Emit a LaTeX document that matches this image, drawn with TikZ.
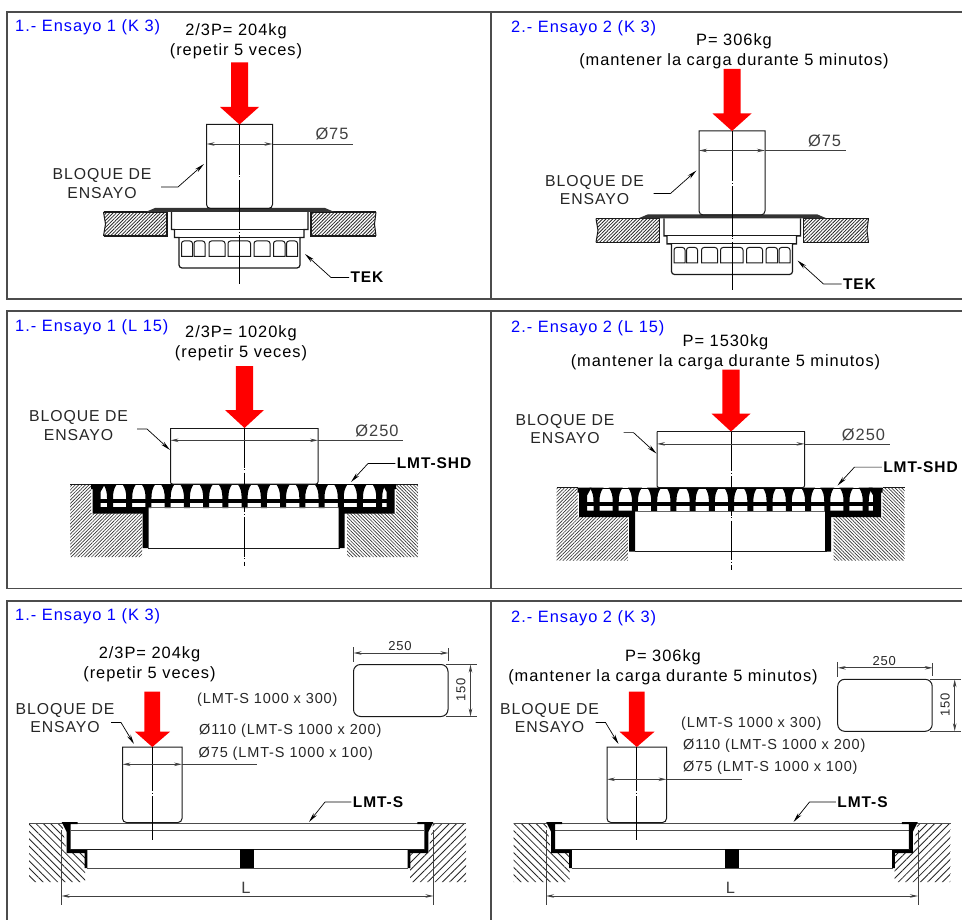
\documentclass[tikz,border=0pt]{standalone}
\usepackage{fontspec}
\setmainfont[LetterSpace=6]{Liberation Sans}
\usepackage{tikz}
\usetikzlibrary{arrows.meta,patterns.meta}

\tikzset{
  txt/.style={inner sep=0pt,align=center,font=\fontsize{16.4}{20}\selectfont},
  title/.style={txt,anchor=west,text=blue},
  small/.style={txt,anchor=west,text=black!85,font=\fontsize{14.5}{16}\selectfont},
  blocktxt/.style={txt,text=black!85,font=\fontsize{15.8}{18.5}\selectfont},
  ref/.style={txt,outer sep=1.5pt,font=\fontsize{15.5}{18}\bfseries\selectfont},
  panel/.style={draw=black!70,line width=1.1pt},
  part/.style={draw=black!90,line width=1pt},
  thin part/.style={draw=black!90,line width=1pt},
  dimline/.style={draw=black!75,line width=0.8pt},
  dimarrow/.style={dimline,{Stealth[length=8pt,width=3.5pt,fill=black!60]}-{Stealth[length=8pt,width=3.5pt,fill=black!60]}},
  leader/.style={draw=black,line width=0.7pt,-{Stealth[length=10pt,width=4pt]}},
  axisline/.style={draw=black,line width=0.8pt,dash pattern=on #1 off 1.5pt on 1pt off 2.5pt},
  loadfill/.style={fill=red},
  hatchdense/.style={pattern={Lines[angle=45,distance=2.4pt,line width=.8pt]},pattern color=black!85},
  hatchleft/.style={pattern={Lines[angle=45,distance=2.4pt,line width=.65pt]},pattern color=black!80},
  hatchright/.style={pattern={Lines[angle=-45,distance=2.4pt,line width=.65pt]},pattern color=black!80},
  hatchopenl/.style={pattern={Lines[angle=-45,distance=5.2pt,line width=.85pt]},pattern color=black!85},
  hatchopenr/.style={pattern={Lines[angle=45,distance=5.2pt,line width=.85pt]},pattern color=black!85},
}

% first row: cylinder block on the TEK drain
\newcommand{\tekpanel}{
  % slabs
  \path[hatchdense] (104,212) -- (167,212) -- (167,236) -- (104,236) -- (105.5,224) -- cycle;
  \path[hatchdense] (311,212) -- (376,212) -- (374.5,224) -- (376,236) -- (311,236) -- cycle;
  \draw[part,line width=1.2pt] (103.5,212) -- (167,212) -- (167,236) -- (103.5,236);
  \draw[part,line width=1.2pt] (376,212) -- (311,212) -- (311,236) -- (376,236);
  \draw[part] (103.5,212) -- (105.5,224) -- (103.5,236);
  \draw[part] (376,212) -- (374.5,224) -- (376,236);

  % drain body
  \draw[part,line width=1.2pt] (171.5,212) -- (171.5,229.5) -- (174.5,229.5) -- (174.5,237.5) -- (179,237.5)
    [rounded corners=3pt] -- (179,268) -- (300,268) [sharp corners] -- (300,237.5) -- (304,237.5) -- (304,229.5) -- (308,229.5) -- (308,212);
  \draw[part] (171.5,229.5) -- (308,229.5);
  \draw[part] (174.5,237.5) -- (304,237.5);
  \foreach \a/\b in {181.5/192.5,194/205,209/225,228/250.5,254/270,273.5/285,286.5/297.5}
    \draw[thin part,line width=1pt] (\a,256.5) [rounded corners=2.5pt] -- (\a,241) -- (\b,241) [sharp corners] -- (\b,256.5) -- cycle;

  % plate under the block
  \fill[black!80] (146,211.8) -- (155,208) -- (325,208) -- (334,211.8) -- cycle;

  % block and load
  \draw[thin part] (206.5,124.5) [rounded corners=4pt] -- (206.5,208.5) -- (272.5,208.5) [sharp corners] -- (272.5,124.5) -- cycle;
  \draw[axisline=50.5pt] (239.5,124.5) -- (239.5,284);
  \fill[loadfill] (231,62.5) -- (248,62.5) -- (248,107) -- (259,107) -- (239.5,124.5) -- (220,107) -- (231,107) -- cycle;

  % diameter
  \draw[dimarrow] (206.5,144) -- (272.5,144);
  \draw[dimline] (272.5,144) -- (353,144);
  \node[txt,text=black!75] (dia) at (332,134) {Ø75};

  % labels
  \node[blocktxt] (blq) at (102,183.5) {BLOQUE DE\\ENSAYO};
  \coordinate (blqend) at (161,187);
  \coordinate (blqknee) at (178,187);
  \coordinate (blqtip) at (204,164);
  \draw[leader] (blqend) -- (blqknee) -- (blqtip);
  \node[ref] (tek) at (367,277.5) {TEK};
  \coordinate (tekknee) at (331,277.5);
  \coordinate (tektip) at (305,254);
  \draw[leader] (tek.west) -- (tekknee) -- (tektip);
}

% second row: wide block on the LMT-SHD grating
\newcommand{\shdpanel}{
  % ground
  \path[hatchleft] (70,484) -- (91,484) -- (91,513) -- (142,513) -- (142,557) -- (70,557) -- cycle;
  \path[hatchright] (418,484) -- (396,484) -- (396,513) -- (347,513) -- (347,557) -- (418,557) -- cycle;
  \draw[thin part,line width=.6pt] (70,484) -- (91,484) (396,484) -- (418,484);

  % grating bars
  \foreach \n in {0,...,14}
    \fill[black,shift={({110+19.23*\n},0)}] (-7,484) .. controls (-4,488) and (-3,492) .. (-3,498) -- (-3,508) -- (3,508) -- (3,498) .. controls (3,492) and (4,488) .. (7,484) -- cycle;
  \draw[black,line width=1pt] (91,484.5) -- (396,484.5);
  \fill[black] (96,498.5) rectangle (391,502.5);
  \draw[black!60,line width=1.2pt] (100,507.5) -- (388,507.5);

  % frame both sides
  \foreach \m/\d in {1/0,-1/487.2} {
    \begin{scope}[shift={(\d,0)},xscale=\m]
      \fill[black] (91,484) -- (105,484) -- (100.5,492) -- (100.5,507) -- (148.5,507) -- (148.5,548) -- (142.5,548) -- (142.5,513.5) -- (92.5,513.5) -- (92.5,489) -- (91,489) -- cycle;
    \end{scope}
  }
  \draw[part] (148,548) -- (340,548);

  % block and load
  \draw[part] (170.5,428) -- (318,428);
  \draw[thin part] (170.5,428) [rounded corners=2pt] -- (170.5,484) -- (318,484) [sharp corners] -- (318,428);
  \draw[axisline=39.5pt] (244.5,428) -- (244.5,566);
  \fill[loadfill] (235.8,366) -- (253.2,366) -- (253.2,410) -- (264,410) -- (244.5,428) -- (225,410) -- (235.8,410) -- cycle;

  % diameter
  \draw[dimarrow] (170.5,440.3) -- (318,440.3);
  \draw[dimline] (318,440.3) -- (403,440.3);
  \node[txt,text=black!75] (dia) at (377,431) {Ø250};

  % labels
  \node[blocktxt] (blq) at (78.5,425.5) {BLOQUE DE\\ENSAYO};
  \coordinate (blqend) at (137,429);
  \coordinate (blqknee) at (147,429);
  \coordinate (blqtip) at (170,450);
  \draw[leader] (blqend) -- (blqknee) -- (blqtip);
  \node[ref] (shd) at (434,463.5) {LMT-SHD};
  \coordinate (shdknee) at (368,463.5);
  \coordinate (shdtip) at (351,482);
  \draw[leader] (shd.west) -- (shdknee) -- (shdtip);
}

% third row: small block on the LMT-S channel, #1 is the height of its diameter line
\newcommand{\lmtpanel}[1]{
  % ground
  \path[hatchopenl] (29,823) -- (62,823) -- (66.7,853) -- (85,853) -- (85,882) -- (29,882) -- cycle;
  \path[hatchopenr] (466,823) -- (433,823) -- (428.3,853) -- (410,853) -- (410,882) -- (466,882) -- cycle;
  \draw[thin part,draw=black!70] (29,823) -- (466,823);
  \draw[thin part,draw=black!70] (70.7,830) -- (424.3,830);

  % channel both sides
  \foreach \m/\d in {1/0,-1/495} {
    \begin{scope}[shift={(\d,0)},xscale=\m]
      \fill[black] (61.7,822) -- (77.7,822) -- (77.7,824) -- (70.7,824) -- (70.7,850) -- (87.3,850) -- (87.3,868) -- (84.7,868) -- (84.7,853) -- (66.7,853) -- (66.7,832) -- cycle;
    \end{scope}
  }
  \draw[part] (70,849.5) -- (425,849.5);
  \draw[thin part,draw=black!70] (87,868) -- (408,868);
  \fill[black] (240,849) rectangle (254,868);

  % block and load
  \draw[thin part] (122.5,747) [rounded corners=4pt] -- (122.5,822.5) -- (182,822.5) [sharp corners] -- (182,747) -- cycle;
  \draw[axisline=44pt] (152.3,747) -- (152.3,840);
  \fill[loadfill] (144.3,691.7) -- (160.2,691.7) -- (160.2,731.7) -- (170,731.7) -- (152.3,747) -- (135,731.7) -- (144.3,731.7) -- cycle;

  % diameter
  \draw[dimarrow] (122.5,#1) -- (182,#1);
  \draw[dimline] (182,#1) -- (257,#1);

  % overall length
  \draw[dimline] (61.5,830) -- (61.5,905);
  \draw[dimline] (433.5,830) -- (433.5,905);
  \draw[dimarrow] (61.5,896) -- (433.5,896);
  \node[txt,text=black!75] (len) at (246,888) {L};

  % labels
  \node[blocktxt] (blq) at (65,718) {BLOQUE DE\\ENSAYO};
  \coordinate (blqend) at (111,722.5);
  \coordinate (blqknee) at (121,722.5);
  \coordinate (blqtip) at (134,744);
  \draw[leader] (blqend) -- (blqknee) -- (blqtip);
  \node[ref] (lmt) at (378,802) {LMT-S};
  \coordinate (lmtknee) at (325,802);
  \coordinate (lmttip) at (309,822);
  \draw[leader] (lmt.west) -- (lmtknee) -- (lmttip);
}

% rectangular section of the block, with its dimensions
\newcommand{\lmtsection}{
  \draw[thin part,rounded corners=7pt] (353.5,664.5) rectangle (448,716.5);
  \draw[dimline] (353.5,647) -- (353.5,662);
  \draw[dimline] (448.5,648) -- (448.5,661);
  \draw[dimline] (445.5,664.5) -- (477,664.5);
  \draw[dimline] (445.5,716.5) -- (477,716.5);
  \draw[dimarrow] (353.5,653) -- (448.5,653);
  \draw[dimarrow] (470.5,664.5) -- (470.5,716.5);
  \node[txt,font=\fontsize{13}{15}\selectfont,text=black!85] (wid) at (400,646) {250};
  \node[txt,font=\fontsize{13}{15}\selectfont,text=black!85,rotate=90] (hei) at (461,690) {150};
}

\begin{document}
\begin{tikzpicture}[x=1pt,y=-1pt]
  \useasboundingbox (0,0) rectangle (962,920);

  % panel frames
  \draw[panel] (7,920) -- (7,601) -- (962,601);
  \draw[panel] (491,601) -- (491,920);
  \draw[panel] (962,311) -- (7,311) -- (7,588.5) -- (962,588.5);
  \draw[panel] (491,311) -- (491,588.5);
  \draw[panel] (962,12) -- (7,12) -- (7,299) -- (962,299);
  \draw[panel] (491,12) -- (491,299);

  % first row
  \begin{scope}[name prefix=ka-]
    \tekpanel
  \end{scope}
  \begin{scope}[name prefix=kb-,shift={(492.5,6.5)}]
    \tekpanel
  \end{scope}
  \node[title] (kahead) at (15,27.5) {1.- Ensayo 1 (K 3)};
  \node[title] (kbhead) at (511,28.5) {2.- Ensayo 2 (K 3)};
  \node[txt] (kaload) at (236,41.5) {2/3P= 204kg\\(repetir 5 veces)};
  \node[txt] (kbload) at (734,51) {P= 306kg\\(mantener la carga durante 5 minutos)};

  % second row
  \begin{scope}[name prefix=la-]
    \shdpanel
  \end{scope}
  \begin{scope}[name prefix=lb-,shift={(486.5,3.6)}]
    \shdpanel
  \end{scope}
  \node[title] (lahead) at (15,327) {1.- Ensayo 1 (L 15)};
  \node[title] (lbhead) at (511,328) {2.- Ensayo 2 (L 15)};
  \node[txt] (laload) at (241,343.5) {2/3P= 1020kg\\(repetir 5 veces)};
  \node[txt] (lbload) at (725.5,352.5) {P= 1530kg\\(mantener la carga durante 5 minutos)};

  % third row
  \begin{scope}[name prefix=sa-]
    \lmtpanel{764.3}
    \lmtsection
  \end{scope}
  \begin{scope}[name prefix=sb-,shift={(484.5,0)}]
    \lmtpanel{779.3}
  \end{scope}
  \begin{scope}[name prefix=sc-,shift={(484.2,14.8)}]
    \lmtsection
  \end{scope}
  \node[title] (sahead) at (15,616) {1.- Ensayo 1 (K 3)};
  \node[title] (sbhead) at (511,618) {2.- Ensayo 2 (K 3)};
  \node[txt] (saload) at (149.5,664) {2/3P= 204kg\\(repetir 5 veces)};
  \node[txt] (sbload) at (663,667.5) {P= 306kg\\(mantener la carga durante 5 minutos)};
  \node[small] (sasizea) at (197,700) {(LMT-S 1000 x 300)};
  \node[small] (sasizeb) at (199,731) {Ø110 (LMT-S 1000 x 200)};
  \node[small] (sasizec) at (198.5,754) {Ø75 (LMT-S 1000 x 100)};
  \node[small] (sbsizea) at (681,724) {(LMT-S 1000 x 300)};
  \node[small] (sbsizeb) at (683,746) {Ø110 (LMT-S 1000 x 200)};
  \node[small] (sbsizec) at (683,768) {Ø75 (LMT-S 1000 x 100)};
\end{tikzpicture}
\end{document}
